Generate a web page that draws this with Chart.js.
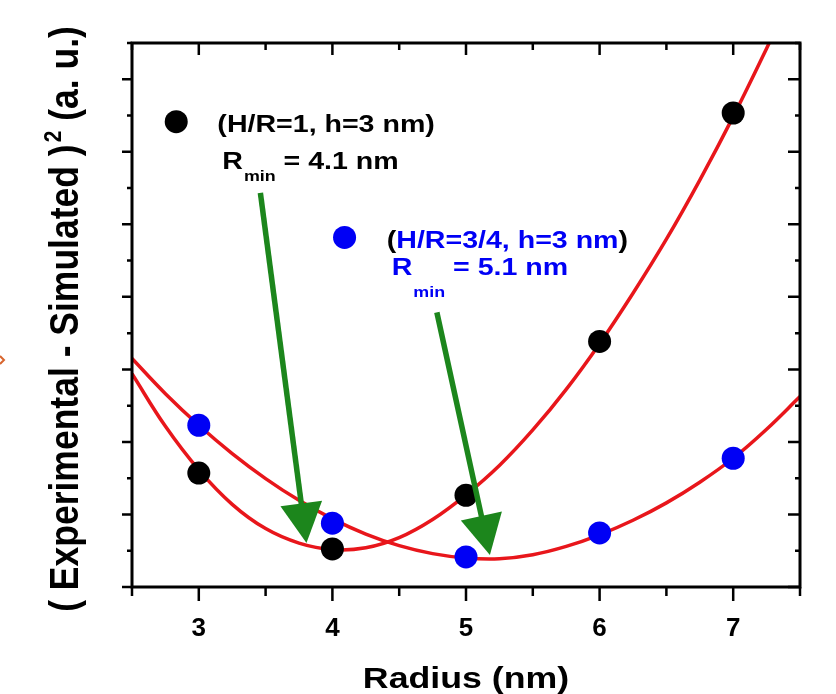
<!DOCTYPE html>
<html>
<head>
<meta charset="utf-8">
<script src="https://cdn.jsdelivr.net/npm/chart.js@4"></script>
<style>
  html, body { margin: 0; padding: 0; background: #fff; }
</style>
</head>
<body>
<canvas id="Chart" width="836" height="694"></canvas>
<script>
// measured points
const radius = [3, 4, 5, 6, 7];
const hr1Values = [3.14, 1.05, 2.53, 6.77, 13.07];
const hr34Values = [4.46, 1.76, 0.83, 1.49, 3.55];

// red fit curves
const fitRadius = [2.5, 2.75, 3, 3.25, 3.5, 3.75, 4, 4.25, 4.5, 4.75, 5,
                   5.25, 5.5, 5.75, 6, 6.25, 6.5, 6.75, 7, 7.25, 7.5];
const hr1Fit = [5.88, 4.43, 3.23, 2.28, 1.61, 1.21, 1.03, 1.08, 1.36, 1.86, 2.54,
                3.35, 4.33, 5.45, 6.71, 8.10, 9.59, 11.22, 12.97, 14.85, 16.80];
const hr34Fit = [6.30, 5.33, 4.46, 3.68, 2.99, 2.39, 1.88, 1.46, 1.14, 0.92, 0.80,
                 0.78, 0.89, 1.12, 1.44, 1.84, 2.32, 2.89, 3.55, 4.35, 5.25];

const xTickLabels = [3, 4, 5, 6, 7];
const xMinorTicks = [2.5, 3.5, 4.5, 5.5, 6.5, 7.5];
const yMajorTicks = [0, 2, 4, 6, 8, 10, 12, 14];
const yMinorTicks = [1, 3, 5, 7, 9, 11, 13, 15];

// R_min arrows (data coords)
const arrowFrom = [[3.461, 10.87], [4.782, 7.57]];
const arrowTo = [[3.806, 1.21], [5.179, 0.88]];

const FONT = "'Liberation Sans', Arial, sans-serif";
const RED = '#e8161b';
const GREEN = '#1c861c';
const BLUE = '#0000f5';
const SX = 1.19; // text in the figure is wider than plain Arial

function txt(ctx, str, x, y, size, color, sx, sy) {
  sx = sx || SX; sy = sy || 1;
  ctx.save();
  ctx.font = 'bold ' + size + 'px ' + FONT;
  ctx.fillStyle = color;
  ctx.textBaseline = 'alphabetic';
  ctx.textAlign = 'left';
  ctx.translate(x, y);
  ctx.scale(sx, sy);
  ctx.fillText(str, 0, 0);
  const w = ctx.measureText(str).width * sx;
  ctx.restore();
  return x + w;
}

function drawArrow(ctx, x1, y1, x2, y2) {
  const a = Math.atan2(y2 - y1, x2 - x1);
  const len = 40, half = 21;
  const bx = x2 - len * Math.cos(a), by = y2 - len * Math.sin(a);
  ctx.save();
  ctx.strokeStyle = GREEN;
  ctx.fillStyle = GREEN;
  ctx.lineWidth = 5.5;
  ctx.beginPath();
  ctx.moveTo(x1, y1);
  ctx.lineTo(bx + 2 * Math.cos(a), by + 2 * Math.sin(a));
  ctx.stroke();
  ctx.beginPath();
  ctx.moveTo(x2, y2);
  ctx.lineTo(bx + half * Math.sin(a), by - half * Math.cos(a));
  ctx.lineTo(bx - half * Math.sin(a), by + half * Math.cos(a));
  ctx.closePath();
  ctx.fill();
  ctx.restore();
}

const annotate = {
  id: 'annotate',
  afterDatasetsDraw(chart) {
    const ctx = chart.ctx, xs = chart.scales.x, ys = chart.scales.y;
    const ca = chart.chartArea;

    // frame
    ctx.save();
    ctx.strokeStyle = '#000';
    ctx.lineWidth = 3;
    ctx.strokeRect(ca.left, ca.top, ca.right - ca.left, ca.bottom - ca.top);

    // tick marks: left/bottom outside, top/right inside
    ctx.lineWidth = 2.5;
    ctx.beginPath();
    xTickLabels.forEach(v => {
      const p = xs.getPixelForValue(v);
      ctx.moveTo(p, ca.bottom); ctx.lineTo(p, ca.bottom + 14);
      ctx.moveTo(p, ca.top); ctx.lineTo(p, ca.top + 12);
    });
    xMinorTicks.forEach(v => {
      const p = xs.getPixelForValue(v);
      ctx.moveTo(p, ca.bottom); ctx.lineTo(p, ca.bottom + 9);
      ctx.moveTo(p, ca.top); ctx.lineTo(p, ca.top + 7);
    });
    yMajorTicks.forEach(v => {
      const p = ys.getPixelForValue(v);
      ctx.moveTo(ca.left, p); ctx.lineTo(ca.left - 10, p);
      ctx.moveTo(ca.right, p); ctx.lineTo(ca.right - 12, p);
    });
    yMinorTicks.forEach(v => {
      const p = ys.getPixelForValue(v);
      ctx.moveTo(ca.left, p); ctx.lineTo(ca.left - 5, p);
      ctx.moveTo(ca.right, p); ctx.lineTo(ca.right - 5, p);
    });
    ctx.stroke();
    ctx.restore();

    arrowFrom.forEach((f, i) => {
      const t = arrowTo[i];
      drawArrow(ctx, xs.getPixelForValue(f[0]), ys.getPixelForValue(f[1]),
                     xs.getPixelForValue(t[0]), ys.getPixelForValue(t[1]));
    });

    // in-plot labels
    const dot = (x, y, c) => {
      ctx.save();
      ctx.fillStyle = c;
      ctx.beginPath();
      ctx.arc(xs.getPixelForValue(x), ys.getPixelForValue(y), 11.5, 0, Math.PI * 2);
      ctx.fill();
      ctx.restore();
    };
    dot(2.831, 12.83, '#000');
    let x = txt(ctx, '(H/R=1, h=3 nm)', xs.getPixelForValue(3.139), ys.getPixelForValue(12.55), 24, '#000');
    x = txt(ctx, 'R', xs.getPixelForValue(3.176), ys.getPixelForValue(11.53), 24, '#000');
    x = txt(ctx, 'min', x + 1, ys.getPixelForValue(11.2), 15, '#000');
    txt(ctx, ' = 4.1 nm', x, ys.getPixelForValue(11.53), 24, '#000');

    dot(4.091, 9.64, BLUE);
    x = txt(ctx, '(', xs.getPixelForValue(4.407), ys.getPixelForValue(9.36), 24, '#000');
    x = txt(ctx, 'H/R=3/4, h=3 nm', x, ys.getPixelForValue(9.36), 24, BLUE);
    txt(ctx, ')', x, ys.getPixelForValue(9.36), 24, '#000');
    x = txt(ctx, 'R', xs.getPixelForValue(4.444), ys.getPixelForValue(8.59), 24, BLUE);
    x = txt(ctx, 'min', x + 1, ys.getPixelForValue(8.0), 15, BLUE);
    txt(ctx, ' = 5.1 nm', x, ys.getPixelForValue(8.59), 24, BLUE);
  },
  afterDraw(chart) {
    const ctx = chart.ctx, ca = chart.chartArea;
    // x title
    const xm = (ca.left + ca.right) / 2;
    ctx.save();
    ctx.font = 'bold 30px ' + FONT;
    const wx = ctx.measureText('Radius (nm)').width * SX;
    ctx.restore();
    txt(ctx, 'Radius (nm)', xm - wx / 2, 688, 30, '#000');

    // y title, rotated, with superscript 2
    const a = '( Experimental - Simulated )', b = ' (a. u.)';
    ctx.save();
    ctx.font = 'bold 35.5px ' + FONT;
    const wa = ctx.measureText(a).width, wb = ctx.measureText(b).width;
    ctx.font = 'bold 21px ' + FONT;
    const w2 = ctx.measureText('2').width;
    ctx.restore();
    const start = -(wa + w2 + 2 + wb) / 2;
    ctx.save();
    ctx.translate(78, 319);
    ctx.rotate(-Math.PI / 2);
    let p = txt(ctx, a, start, 0, 35.5, '#000', 1, 1.12);
    p = txt(ctx, '2', p + 2, -17, 21, '#000', 1, 1.12);
    txt(ctx, b, p, 0, 35.5, '#000', 1, 1.12);
    ctx.restore();

    // small stray orange mark at the left edge
    ctx.save();
    ctx.strokeStyle = '#d8652e';
    ctx.lineWidth = 2;
    ctx.beginPath();
    ctx.moveTo(0, 356); ctx.lineTo(4, 360); ctx.lineTo(0, 364);
    ctx.stroke();
    ctx.restore();
  }
};

const ctx = document.getElementById('Chart');

new Chart(ctx, {
  type: 'scatter',
  data: {
    datasets: [{
      label: 'H/R=1, h=3 nm',
      data: radius.map((r, i) => ({ x: r, y: hr1Values[i] })),
      backgroundColor: '#000',
      borderColor: '#000',
      pointRadius: 11.5,
      pointBorderWidth: 0
    }, {
      label: 'H/R=3/4, h=3 nm',
      data: radius.map((r, i) => ({ x: r, y: hr34Values[i] })),
      backgroundColor: BLUE,
      borderColor: BLUE,
      pointRadius: 11.5,
      pointBorderWidth: 0
    }, {
      label: 'fit H/R=1',
      data: fitRadius.map((r, i) => ({ x: r, y: hr1Fit[i] })),
      showLine: true,
      borderColor: RED,
      borderWidth: 3.5,
      pointRadius: 0,
      tension: 0.4
    }, {
      label: 'fit H/R=3/4',
      data: fitRadius.map((r, i) => ({ x: r, y: hr34Fit[i] })),
      showLine: true,
      borderColor: RED,
      borderWidth: 3.5,
      pointRadius: 0,
      tension: 0.4
    }]
  },
  options: {
    responsive: false,
    animation: false,
    layout: { padding: { top: 43, right: 36, left: 0, bottom: 0 } },
    plugins: { legend: { display: false }, tooltip: { enabled: false } },
    scales: {
      x: {
        type: 'linear',
        min: 2.5,
        max: 7.5,
        afterBuildTicks: s => { s.ticks = xTickLabels.map(v => ({ value: v })); },
        afterFit: s => { s.height = 107; },
        grid: { display: false, drawTicks: false, tickLength: 0 },
        border: { display: false },
        ticks: {
          padding: 26,
          color: '#000',
          font: { family: FONT, weight: 'bold', size: 26 }
        }
      },
      y: {
        min: 0,
        max: 15,
        afterFit: s => { s.width = 132; },
        grid: { display: false, drawTicks: false, tickLength: 0 },
        border: { display: false },
        ticks: { display: false }
      }
    }
  },
  plugins: [annotate]
});
</script>
</body>
</html>
